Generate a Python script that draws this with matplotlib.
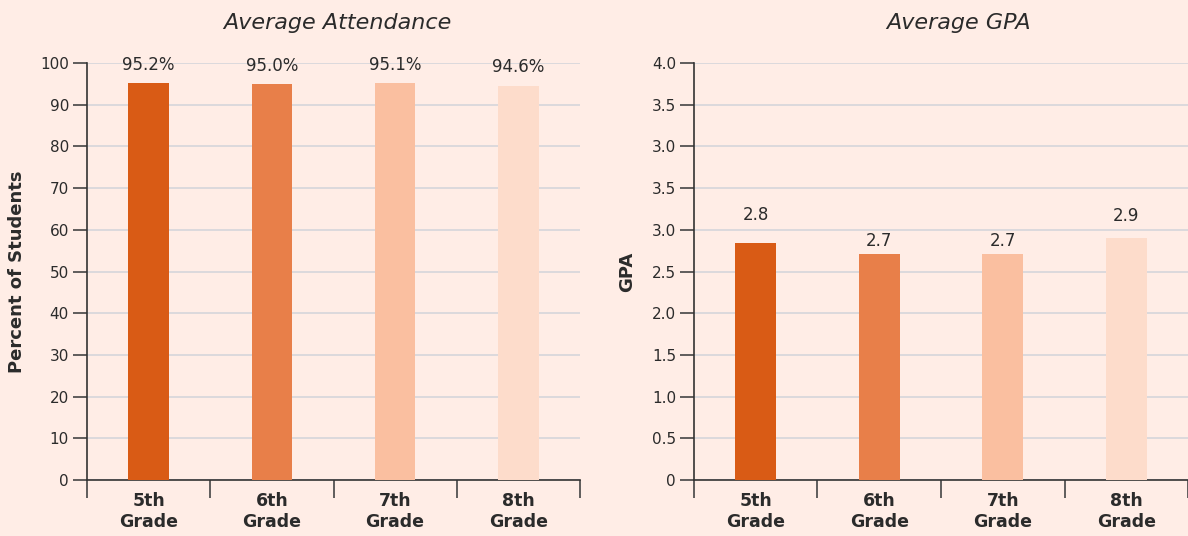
import matplotlib
matplotlib.use('Agg')
import matplotlib.pyplot as plt
import numpy as np

plt.rcParams['font.family'] = ['DejaVu Sans']

grades = ['5th\nGrade', '6th\nGrade', '7th\nGrade', '8th\nGrade']
attendance = [95.2, 95.0, 95.1, 94.6]
attendance_labels = ['95.2%', '95.0%', '95.1%', '94.6%']
gpa = [2.84, 2.71, 2.71, 2.90]
gpa_labels = ['2.8', '2.7', '2.7', '2.9']
# tick labels as printed on the GPA axis (top three repeat)
gpa_ticklabels = ['0', '0.5', '1.0', '1.5', '2.0', '2.5', '3.0', '3.5', '3.0', '3.5', '4.0']

bar_colors = ['#D95B15', '#E87F49', '#FABFA0', '#FDDCCB']
bg = '#FFEDE6'
ink = '#2B2B2B'
grid_c = '#D5D6DB'

fig = plt.figure(figsize=(11.88, 5.36), dpi=100, facecolor=bg)
ax1 = fig.add_axes([87/1188, 56/536, 493/1188, 417/536])
ax2 = fig.add_axes([694/1188, 56/536, 494/1188, 417/536])

def style_ax(ax, ymax, yticks, yticklabels, ylabel, title, ylabel_x, title_x):
    ax.set_facecolor(bg)
    ax.set_xlim(-0.5, 3.5)
    ax.set_ylim(0, ymax)
    ax.set_yticks(yticks)
    ax.set_yticklabels(yticklabels)
    ax.set_xticks([-0.5, 0.5, 1.5, 2.5, 3.5])
    ax.set_xticklabels([])
    ax.set_xticks(range(4), minor=True)
    ax.set_xticklabels(grades, minor=True, fontsize=12.5, fontweight='bold',
                       color=ink, linespacing=1.15)
    ax.tick_params(axis='x', which='major', length=13, width=1.2, color='#444444')
    ax.tick_params(axis='x', which='minor', length=0, pad=9)
    ax.tick_params(axis='y', length=10, width=1.2, color='#444444',
                   labelsize=11, labelcolor=ink, pad=3)
    for s in ['top', 'right']:
        ax.spines[s].set_visible(False)
    for s in ['left', 'bottom']:
        ax.spines[s].set_color('#333333')
        ax.spines[s].set_linewidth(1.2)
    ax.grid(axis='y', color=grid_c, linewidth=1.2)
    ax.set_axisbelow(True)
    ax.set_ylabel(ylabel, fontsize=13, fontweight='bold', color=ink)
    ax.yaxis.set_label_coords(ylabel_x, 0.5)
    ax.text(title_x, 1 + 40/417, title, transform=ax.transAxes, ha='center',
            va='center', fontsize=16, style='italic', color=ink)

# Average Attendance
ax1.bar(range(4), attendance, width=0.33, color=bar_colors, zorder=3)
style_ax(ax1, 100, np.arange(0, 101, 10), [str(v) for v in range(0, 101, 10)],
         'Percent of Students', 'Average Attendance', -61/493, 0.508)
for i, (v, lab) in enumerate(zip(attendance, attendance_labels)):
    ax1.annotate(lab, (i, v), xytext=(0, 13), textcoords='offset points',
                 ha='center', va='center', fontsize=12, color=ink)

# Average GPA
ax2.bar(range(4), gpa, width=0.33, color=bar_colors, zorder=3)
style_ax(ax2, 5.0, np.arange(0, 5.01, 0.5), gpa_ticklabels,
         'GPA', 'Average GPA', -58/494, 0.536)
for i, (v, lab, off) in enumerate(zip(gpa, gpa_labels, [20, 9, 9, 16])):
    ax2.annotate(lab, (i, v), xytext=(0, off), textcoords='offset points',
                 ha='center', va='center', fontsize=12, color=ink)

fig.savefig('out.png', dpi=100, facecolor=bg)
